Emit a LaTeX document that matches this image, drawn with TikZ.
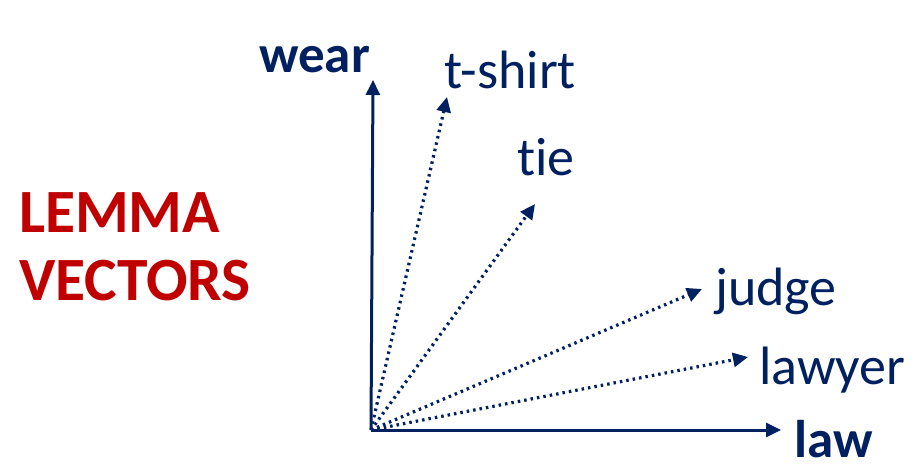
\documentclass[tikz,border=0pt]{standalone}
\usepackage{fontspec}
\setmainfont{Carlito}[Ligatures=NoCommon]
\usetikzlibrary{arrows.meta}
\definecolor{navy}{HTML}{002060}
\definecolor{darkred}{HTML}{C00000}
\begin{document}
\begin{tikzpicture}[x=1pt,y=-1pt,
  axis/.style={navy,line width=3pt,-{Triangle[length=15pt,width=14pt]}},
  vec/.style={navy,line width=3.2pt,dash pattern=on 2.5pt off 4pt,-{Triangle[length=15pt,width=14pt]}},
  lbl/.style={text=navy,anchor=base west,inner sep=0pt,font=\fontsize{54}{54}\selectfont},
  blbl/.style={lbl,font=\fontsize{53}{53}\selectfont\bfseries},
  title/.style={text=darkred,anchor=base west,inner sep=0pt,font=\fontsize{61.5}{61.5}\selectfont\bfseries}]
\useasboundingbox (0,0) rectangle (919,466);
\coordinate (O) at (371,430);
\coordinate (wearTip) at (373,80);
\coordinate (lawTip) at (781,430);
\coordinate (tshirtTip) at (447,97);
\coordinate (tieTip) at (535,204);
\coordinate (judgeTip) at (702,289);
\coordinate (lawyerTip) at (748,357);
\draw[axis] (O) -- (wearTip);
\draw[axis] (O) -- (lawTip);
\draw[vec] (O) -- (tshirtTip);
\draw[vec] (O) -- (tieTip);
\draw[vec] (O) -- (judgeTip);
\draw[vec] (O) -- (lawyerTip);
\node[blbl] (wear) at (259,72) {wear};
\node[blbl] (law) at (794,457) {law};
\node[lbl] (tshirt) at (444,88) {t-shirt};
\node[lbl] (tie) at (517,175) {tie};
\node[lbl] (judge) at (715,305) {judge};
\node[lbl] (lawyer) at (759,384) {lawyer};
\node[title] (lemma) at (19,232) {LEMMA};
\node[title] (vectors) at (19,300) {VECTORS};
\end{tikzpicture}
\end{document}
